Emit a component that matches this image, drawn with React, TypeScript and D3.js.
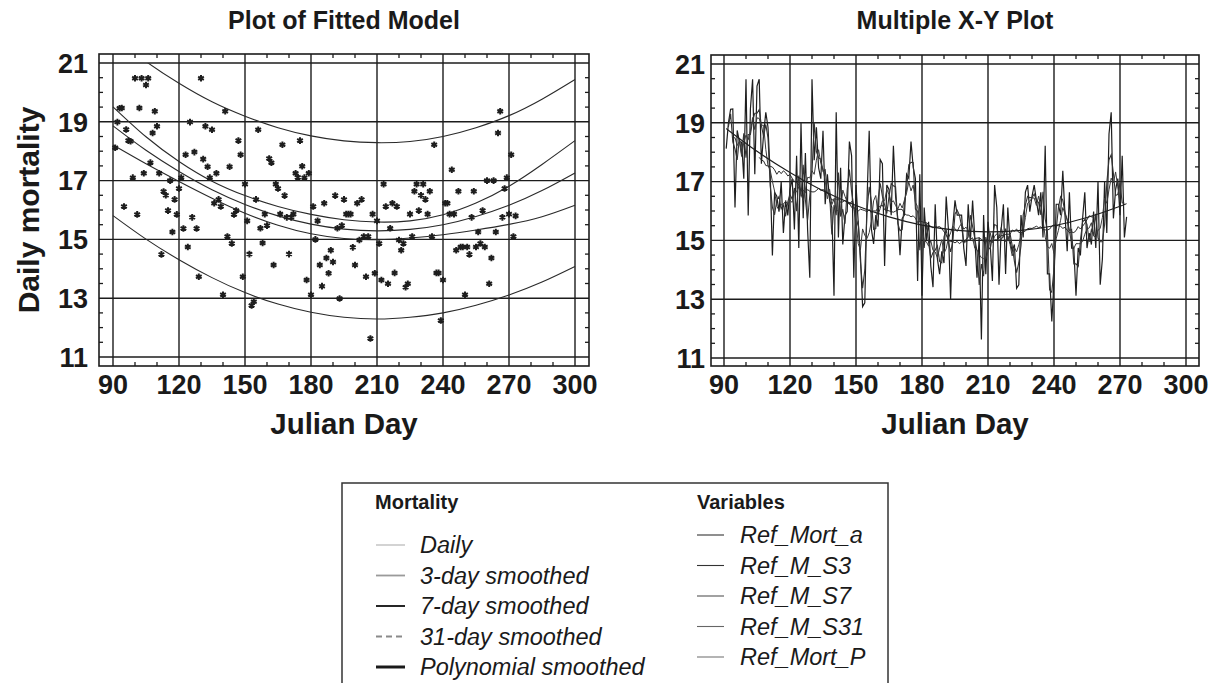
import React from "react";
import * as d3 from "d3";

// ---------- data ----------
const firstDay = 91;
const mortality = [
  18.12, 18.99, 19.46, 19.47, 16.12, 18.74, 18.36, 18.34, 17.1, 20.48,
  15.85, 19.47, 20.48, 17.25, 20.25, 20.48, 17.61, 18.62, 19.36, 18.85,
  17.25, 14.49, 16.63, 16.5, 15.98, 17.0, 15.25, 16.36, 15.85, 16.73,
  17.1, 15.37, 17.88, 14.74, 18.99, 15.75, 17.97, 15.37, 13.73, 20.48,
  17.73, 18.85, 17.47, 17.1, 18.73, 16.23, 17.25, 16.36, 16.12, 13.12,
  19.36, 15.1, 17.47, 14.86, 15.85, 15.98, 18.36, 17.88, 13.73, 16.88,
  15.63, 14.5, 12.75, 12.88, 16.36, 18.73, 15.38, 14.88, 15.86, 15.47,
  17.75, 17.61, 14.13, 16.88, 16.73, 15.86, 18.22, 16.49, 15.75, 14.5,
  15.75, 15.86, 17.25, 17.11, 18.36, 17.49, 17.1, 13.62, 17.25, 13.12,
  16.12, 15.0, 15.63, 14.13, 13.41, 16.23, 14.37, 13.85, 14.63, 14.23,
  16.49, 15.38, 12.99, 15.47, 16.36, 15.86, 15.86, 15.86, 14.73, 14.13,
  16.23, 14.98, 16.36, 15.1, 13.73, 15.1, 11.63, 15.86, 13.85, 15.63,
  14.86, 13.62, 16.88, 16.12, 13.49, 15.38, 16.23, 13.86, 16.12, 14.98,
  14.63, 14.86, 13.37, 13.49, 15.86, 15.1, 16.64, 16.88, 15.98, 16.5,
  16.88, 16.36, 15.86, 16.64, 15.1, 18.22, 13.86, 13.86, 12.24, 13.62,
  16.23, 16.23, 15.86, 17.37, 15.86, 14.63, 16.64, 14.74, 14.74, 13.12,
  14.74, 14.49, 15.75, 16.64, 14.74, 15.25, 14.86, 15.98, 14.74, 17.0,
  13.49, 14.37, 17.0, 15.25, 18.62, 19.36, 15.75, 16.73, 17.1, 15.86,
  17.88, 15.1, 15.8,
];

const fitDays = [90, 105, 120, 135, 150, 165, 180, 195, 210, 225, 240, 255, 270, 285, 300];
const fitValues = [18.86, 18.03, 17.31, 16.69, 16.19, 15.8, 15.52, 15.35, 15.29, 15.34, 15.5, 15.78, 16.16, 16.66, 17.26];
const confUpper = [19.51, 18.49, 17.65, 16.98, 16.49, 16.12, 15.85, 15.67, 15.59, 15.63, 15.84, 16.24, 16.81, 17.55, 18.36];
const confLower = [18.21, 17.57, 16.97, 16.4, 15.89, 15.48, 15.19, 15.03, 14.99, 15.05, 15.16, 15.32, 15.51, 15.77, 16.16];
const predUpper = [21.91, 21.05, 20.31, 19.68, 19.19, 18.8, 18.52, 18.35, 18.29, 18.33, 18.5, 18.8, 19.21, 19.77, 20.44];
const predLower = [15.81, 15.01, 14.31, 13.7, 13.19, 12.8, 12.52, 12.35, 12.29, 12.35, 12.5, 12.76, 13.11, 13.55, 14.08];

const xTicks = [90, 120, 150, 180, 210, 240, 270, 300];
const yTicks = [11, 13, 15, 17, 19, 21];
const smoothWindows = [3, 7, 31];

const legendMortality = ["Daily", "3-day smoothed", "7-day smoothed", "31-day smoothed", "Polynomial smoothed"];
const legendVariables = ["Ref_Mort_a", "Ref_M_S3", "Ref_M_S7", "Ref_M_S31", "Ref_Mort_P"];

// ---------- helpers ----------
const FONT = "'Liberation Sans', Arial, Helvetica, sans-serif";
const GRID = "#1c1c1c";
const INK = "#1a1a1a";

type Pt = [number, number];
const days = mortality.map((_, i) => firstDay + i);
const daily: Pt[] = mortality.map((v, i) => [days[i], v]);

function movingAverage(win: number): Pt[] {
  const h = Math.floor(win / 2);
  const out: Pt[] = [];
  for (let i = h; i < mortality.length - h; i++) {
    out.push([days[i], d3.mean(mortality.slice(i - h, i + h + 1)) as number]);
  }
  return out;
}

const curvePts = (vals: number[]): Pt[] => fitDays.map((d, i) => [d, vals[i]]);

interface PanelProps {
  id: string;
  frame: { x: number; y: number; w: number; h: number };
  xs: d3.ScaleLinear<number, number>;
  ys: d3.ScaleLinear<number, number>;
  yLabelX: number;
  xLabelY: number;
  title: string;
  titleY: number;
  children?: React.ReactNode;
}

function Panel({ id, frame, xs, ys, yLabelX, xLabelY, title, titleY, children }: PanelProps) {
  const { x, y, w, h } = frame;
  const minorX = d3.range(90, 301, 10).filter((d) => d % 30 !== 0);
  const minorY = d3.range(11, 21.01, 0.5).filter((v) => !yTicks.includes(v));
  const tl = 4;
  const cx = x + w / 2;
  const [yMin, yMax] = ys.domain();
  return (
    <g>
      <defs>
        <clipPath id={id}>
          <rect x={x} y={ys(yMax)} width={w} height={ys(yMin) - ys(yMax)} />
        </clipPath>
      </defs>
      <text x={cx} y={titleY} textAnchor="middle" fontFamily={FONT} fontWeight="bold" fontSize={25} fill={INK}>
        {title}
      </text>
      {xTicks.map((t) => (
        <line key={"gx" + t} x1={xs(t)} x2={xs(t)} y1={y} y2={y + h} stroke={GRID} strokeWidth={1.4} />
      ))}
      {yTicks.map((t) => (
        <line key={"gy" + t} x1={x} x2={x + w} y1={ys(t)} y2={ys(t)} stroke={GRID} strokeWidth={1.4} />
      ))}
      {minorX.map((t) => (
        <g key={"mx" + t}>
          <line x1={xs(t)} x2={xs(t)} y1={y} y2={y + tl} stroke={GRID} strokeWidth={1.3} />
          <line x1={xs(t)} x2={xs(t)} y1={y + h} y2={y + h - tl} stroke={GRID} strokeWidth={1.3} />
        </g>
      ))}
      {minorY.map((t) => (
        <g key={"my" + t}>
          <line x1={x} x2={x + tl} y1={ys(t)} y2={ys(t)} stroke={GRID} strokeWidth={1.3} />
          <line x1={x + w} x2={x + w - tl} y1={ys(t)} y2={ys(t)} stroke={GRID} strokeWidth={1.3} />
        </g>
      ))}
      <g clipPath={`url(#${id})`}>{children}</g>
      <rect x={x} y={y} width={w} height={h} fill="none" stroke={GRID} strokeWidth={1.6} />
      {yTicks.map((t) => (
        <text key={"yl" + t} x={yLabelX} y={ys(t)} dy="0.36em" textAnchor="end" fontFamily={FONT} fontWeight="bold" fontSize={27} fill={INK}>
          {t}
        </text>
      ))}
      {xTicks.map((t) => (
        <text key={"xl" + t} x={xs(t)} y={xLabelY} textAnchor="middle" fontFamily={FONT} fontWeight="bold" fontSize={27} fill={INK}>
          {t}
        </text>
      ))}
      <text x={cx} y={434} textAnchor="middle" fontFamily={FONT} fontWeight="bold" fontSize={29.5} fill={INK}>
        Julian Day
      </text>
    </g>
  );
}

export default function App() {
  const xsL = d3.scaleLinear().domain([90, 300]).range([113, 575]);
  const ysL = d3.scaleLinear().domain([11, 21]).range([357, 63]);
  const xsR = d3.scaleLinear().domain([90, 300]).range([724, 1186]);
  const ysR = d3.scaleLinear().domain([11, 21]).range([358, 64]);

  const lineL = d3.line<Pt>().x((d) => xsL(d[0])).y((d) => ysL(d[1])).curve(d3.curveNatural);
  const lineR = d3.line<Pt>().x((d) => xsR(d[0])).y((d) => ysR(d[1]));
  const lineRSmooth = d3.line<Pt>().x((d) => xsR(d[0])).y((d) => ysR(d[1])).curve(d3.curveNatural);

  const marker = d3.symbol().type(d3.symbolAsterisk).size(30)() as string;

  const [s3, s7, s31] = smoothWindows.map(movingAverage);
  const lastDay = days[days.length - 1];

  const legendFont = 23.5;
  const leftRows = [553, 583.5, 614, 644.5, 675];
  const rightRows = [543, 573.5, 604, 634.5, 665];
  const leftStyles = [
    { stroke: "#c8c8c8", w: 1.6, dash: "" },
    { stroke: "#9a9a9a", w: 1.8, dash: "" },
    { stroke: "#262626", w: 2, dash: "" },
    { stroke: "#8a8a8a", w: 2, dash: "6,4" },
    { stroke: "#1a1a1a", w: 3, dash: "" },
  ];
  const rightStyles = ["#333", "#333", "#555", "#666", "#777"];

  return (
    <svg
      width={1231}
      height={683}
      viewBox="0 0 1231 683"
      style={{ display: "block", position: "absolute", left: 0, top: 0 }}
    >
      <rect width={1231} height={683} fill="#fff" />
      <Panel id="clipL" frame={{ x: 99, y: 54, w: 490, h: 312 }} xs={xsL} ys={ysL} yLabelX={88} xLabelY={394} title="Plot of Fitted Model" titleY={29}>
        {[predUpper, confUpper, fitValues, confLower, predLower].map((vals, i) => (
          <path key={"c" + i} d={lineL(curvePts(vals)) as string} fill="none" stroke="#2a2a2a" strokeWidth={1.1} />
        ))}
        {daily.map((p, i) => (
          <path key={"p" + i} d={marker} transform={`translate(${xsL(p[0])},${ysL(p[1])})`} fill="none" stroke="#1e1e1e" strokeWidth={2} />
        ))}
      </Panel>
      <Panel id="clipR" frame={{ x: 711, y: 55, w: 488, h: 311 }} xs={xsR} ys={ysR} yLabelX={705} xLabelY={394} title="Multiple X-Y Plot" titleY={29}>
        <path d={lineR(daily) as string} fill="none" stroke="#1e1e1e" strokeWidth={1.2} />
        <path d={lineR(s3) as string} fill="none" stroke="#333" strokeWidth={1.1} />
        <path d={lineR(s7) as string} fill="none" stroke="#3a3a3a" strokeWidth={1} />
        <path d={lineR(s31) as string} fill="none" stroke="#2a2a2a" strokeWidth={1} />
        <defs>
          <clipPath id="clipPoly">
            <rect x={xsR(firstDay)} y={0} width={xsR(lastDay) - xsR(firstDay)} height={683} />
          </clipPath>
        </defs>
        <g clipPath="url(#clipPoly)">
          <path d={lineRSmooth(curvePts(fitValues)) as string} fill="none" stroke="#1e1e1e" strokeWidth={1.1} />
        </g>
      </Panel>
      <text transform="translate(39,210) rotate(-90)" textAnchor="middle" fontFamily={FONT} fontWeight="bold" fontSize={30} fill={INK}>
        Daily mortality
      </text>
      {/* Legend */}
      <rect x={342} y={483} width={546} height={230} fill="none" stroke="#333" strokeWidth={1.5} />
      <text x={375} y={509} fontFamily={FONT} fontWeight="bold" fontSize={20} fill={INK}>Mortality</text>
      <text x={697} y={509} fontFamily={FONT} fontWeight="bold" fontSize={20} fill={INK}>Variables</text>
      {legendMortality.map((name, i) => (
        <g key={"lm" + i}>
          <line x1={376} x2={405} y1={leftRows[i] - 8} y2={leftRows[i] - 8} stroke={leftStyles[i].stroke} strokeWidth={leftStyles[i].w} strokeDasharray={leftStyles[i].dash} />
          <text x={420} y={leftRows[i]} fontFamily={FONT} fontStyle="italic" fontSize={legendFont} fill={INK}>{name}</text>
        </g>
      ))}
      {legendVariables.map((name, i) => (
        <g key={"lv" + i}>
          <line x1={697} x2={724} y1={rightRows[i] - 8} y2={rightRows[i] - 8} stroke={rightStyles[i]} strokeWidth={1.1} />
          <text x={740} y={rightRows[i]} fontFamily={FONT} fontStyle="italic" fontSize={legendFont} fill={INK}>{name}</text>
        </g>
      ))}
    </svg>
  );
}
